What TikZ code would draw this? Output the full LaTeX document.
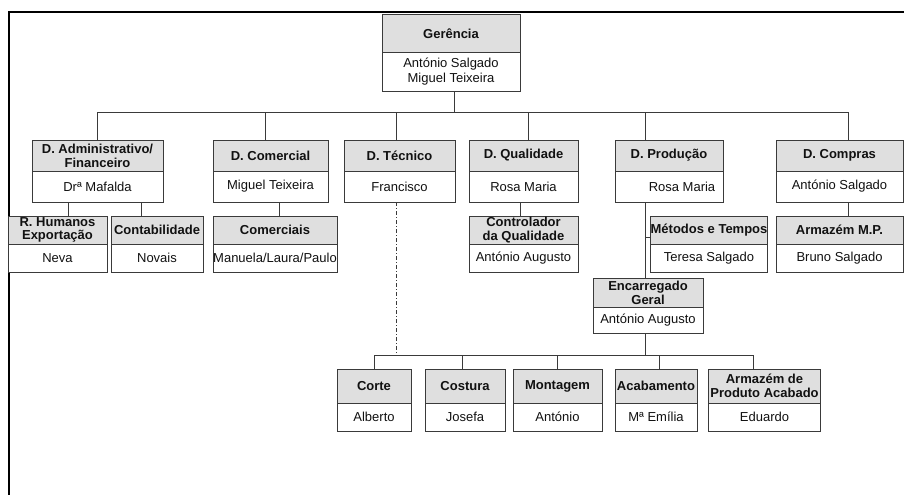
\documentclass[tikz,border=0pt]{standalone}
\usepackage{fontspec}
\setmainfont{Liberation Sans}
\usetikzlibrary{positioning}
\definecolor{headgray}{HTML}{DFDFDF}
\definecolor{boxline}{HTML}{3A3A3A}
\definecolor{textdark}{HTML}{111111}

\begin{document}
\begin{tikzpicture}[x=1pt, y=-1pt,
  headbox/.style={draw=boxline, fill=headgray, line width=1pt, text=textdark, font=\fontsize{13}{14}\selectfont\bfseries, align=center, inner sep=0pt, outer sep=0pt, anchor=north},
  namebox/.style={draw=boxline, fill=white, line width=1pt, text=textdark, font=\fontsize{13}{15}\selectfont, align=center, inner sep=0pt, outer sep=0pt},
  link/.style={draw=boxline, line width=0.9pt}]
\useasboundingbox (0,0) rectangle (904,495);
\draw[line width=2pt] (904,12) -- (9,12) -- (9,495);

% top
\node[headbox, minimum width=138pt, minimum height=38pt] (gerH) at (451,15) {Gerência};
\node[namebox, minimum width=138pt, minimum height=38pt, below=0pt of gerH] (gerP) {António Salgado\\Miguel Teixeira};

% departments
\node[headbox, minimum width=131pt, minimum height=31pt] (admH) at (97.5,140) {D. Administrativo/\\Financeiro};
\node[namebox, minimum width=131pt, minimum height=31pt, below=0pt of admH] (admP) {Drª Mafalda};
\node[headbox, minimum width=115pt, minimum height=31pt] (comH) at (270.5,140) {D. Comercial};
\node[namebox, minimum width=115pt, minimum height=31pt, below=0pt of comH] (comP) {Miguel Teixeira};
\node[headbox, minimum width=111pt, minimum height=31pt] (tecH) at (399.5,140) {D. Técnico};
\node[namebox, minimum width=111pt, minimum height=31pt, below=0pt of tecH] (tecP) {Francisco};
\node[headbox, minimum width=109pt, minimum height=31pt] (qualH) at (523.5,140) {D. Qualidade};
\node[namebox, minimum width=109pt, minimum height=31pt, below=0pt of qualH] (qualP) {Rosa Maria};
\node[headbox, minimum width=108pt, minimum height=31pt] (prodH) at (669,140) {D. Produção};
\node[namebox, minimum width=108pt, minimum height=31pt, below=0pt of prodH] (prodP) {\hspace*{26pt}Rosa Maria};
\node[headbox, minimum width=127pt, minimum height=31pt] (compH) at (839.5,140) {D. Compras};
\node[namebox, minimum width=127pt, minimum height=31pt, below=0pt of compH] (compP) {António Salgado};

% sections
\node[headbox, minimum width=99pt, minimum height=28pt, font=\fontsize{13}{13.5}\selectfont\bfseries] (rhH) at (57.5,216) {R. Humanos\\Exportação};
\node[namebox, minimum width=99pt, minimum height=28pt, below=0pt of rhH] (rhP) {Neva};
\node[headbox, minimum width=92pt, minimum height=28pt] (contH) at (157,216) {Contabilidade};
\node[namebox, minimum width=92pt, minimum height=28pt, below=0pt of contH] (contP) {Novais};
\node[headbox, minimum width=124pt, minimum height=28pt] (comsH) at (275,216) {Comerciais};
\node[namebox, minimum width=124pt, minimum height=28pt, below=0pt of comsH] (comsP) {Manuela/Laura/Paulo};
\node[headbox, minimum width=109pt, minimum height=28pt, font=\fontsize{13}{13.5}\selectfont\bfseries] (ctrlH) at (523.5,216) {Controlador\\da Qualidade};
\node[namebox, minimum width=109pt, minimum height=28pt, below=0pt of ctrlH] (ctrlP) {António Augusto};
\node[headbox, minimum width=117pt, minimum height=28pt] (metH) at (709,216) {Métodos e Tempos};
\node[namebox, minimum width=117pt, minimum height=28pt, below=0pt of metH] (metP) {Teresa Salgado};
\node[headbox, minimum width=127pt, minimum height=28pt] (armmpH) at (839.5,216) {Armazém M.P.};
\node[namebox, minimum width=127pt, minimum height=28pt, below=0pt of armmpH] (armmpP) {Bruno Salgado};

\node[headbox, minimum width=110pt, minimum height=29pt] (encH) at (648,278) {Encarregado\\Geral};
\node[namebox, minimum width=110pt, minimum height=26pt, below=0pt of encH] (encP) {António Augusto};

% production floor
\node[headbox, minimum width=74pt, minimum height=34pt] (corteH) at (374,369) {Corte};
\node[namebox, minimum width=74pt, minimum height=28pt, below=0pt of corteH] (corteP) {Alberto};
\node[headbox, minimum width=80pt, minimum height=34pt] (costH) at (465,369) {Costura};
\node[namebox, minimum width=80pt, minimum height=28pt, below=0pt of costH] (costP) {Josefa};
\node[headbox, minimum width=89pt, minimum height=34pt] (montH) at (557.5,369) {Montagem};
\node[namebox, minimum width=89pt, minimum height=28pt, below=0pt of montH] (montP) {António};
\node[headbox, minimum width=82pt, minimum height=34pt] (acabH) at (656,369) {Acabamento};
\node[namebox, minimum width=82pt, minimum height=28pt, below=0pt of acabH] (acabP) {Mª Emília};
\node[headbox, minimum width=112pt, minimum height=34pt] (armpaH) at (764.5,369) {Armazém de\\Produto Acabado};
\node[namebox, minimum width=112pt, minimum height=28pt, below=0pt of armpaH] (armpaP) {Eduardo};

% connectors
\coordinate (topbarL) at (97,112);
\coordinate (topbarR) at (848,112);
\coordinate (botbarL) at (374,355);
\coordinate (botbarR) at (753,355);
\coordinate (prodline) at ([xshift=-3pt]encH.north);

\draw[link] ([xshift=3pt]gerP.south) -- ([xshift=3pt]gerP.south |- topbarL);
\draw[link] (topbarL) -- (topbarR);
\draw[link] (admH.north) -- (admH.north |- topbarL);
\draw[link] ([xshift=-5pt]comH.north) -- ([xshift=-5pt]comH.north |- topbarL);
\draw[link] ([xshift=-3pt]tecH.north) -- ([xshift=-3pt]tecH.north |- topbarL);
\draw[link] ([xshift=5pt]qualH.north) -- ([xshift=5pt]qualH.north |- topbarL);
\draw[link] (prodline |- prodH.north) -- (prodline |- topbarL);
\draw[link] ([xshift=8.5pt]compH.north) -- ([xshift=8.5pt]compH.north |- topbarL);

\draw[link] ([xshift=10.5pt]rhH.north) -- ([xshift=10.5pt]rhH.north |- admP.south);
\draw[link] ([xshift=-16pt]contH.north) -- ([xshift=-16pt]contH.north |- admP.south);
\draw[link] ([xshift=4pt]comsH.north) -- ([xshift=4pt]comsH.north |- comP.south);
\draw[link] ([xshift=-3.5pt]ctrlH.north) -- ([xshift=-3.5pt]ctrlH.north |- qualP.south);
\draw[link] ([xshift=8.5pt]armmpH.north) -- ([xshift=8.5pt]armmpH.north |- compP.south);

\draw[link] (prodline) -- (prodline |- prodP.south);
\draw[link] ([yshift=-7pt]metH.west) -- ([yshift=-7pt]metH.west -| prodline);
\draw[link] (prodline |- encP.south) -- (prodline |- botbarL);
\draw[link, dash pattern=on 4pt off 2pt on 1pt off 2pt] ([xshift=-3pt]tecP.south) -- ([xshift=-3pt]tecP.south |- botbarL);

\draw[link] (botbarL) -- (botbarR);
\draw[link] (corteH.north) -- (corteH.north |- botbarL);
\draw[link] ([xshift=-3pt]costH.north) -- ([xshift=-3pt]costH.north |- botbarL);
\draw[link] (montH.north) -- (montH.north |- botbarL);
\draw[link] ([xshift=3pt]acabH.north) -- ([xshift=3pt]acabH.north |- botbarL);
\draw[link] ([xshift=-11.5pt]armpaH.north) -- ([xshift=-11.5pt]armpaH.north |- botbarL);
\end{tikzpicture}
\end{document}
